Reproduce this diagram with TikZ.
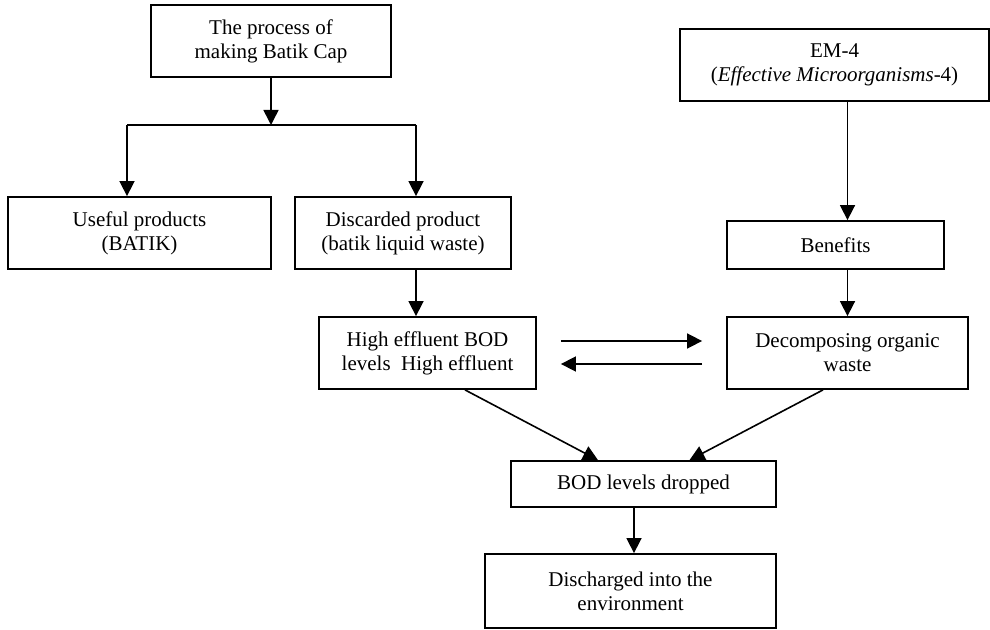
\documentclass[tikz,border=0pt]{standalone}
\usepackage{fontspec}
\setmainfont{Liberation Serif}
\usetikzlibrary{arrows.meta}

\begin{document}
\begin{tikzpicture}[x=0.5pt, y=-0.5pt,
    box/.style={draw, line width=0.9pt, inner sep=0pt, align=center,
        font=\fontsize{10.5}{12}\selectfont},
    arr/.style={line width=0.8pt, -{Triangle[width=7.5pt, length=7.5pt]}}]
    \useasboundingbox (0,0) rectangle (990,630);

    % Boxes
    \node[box, minimum width=120pt, minimum height=36pt] (proc) at (271,41) {The process of\\making Batik Cap};
    \node[box, minimum width=154.5pt, minimum height=36pt] (em) at (834.5,65) {EM-4\\(\textit{Effective Microorganisms}-4)};
    \node[box, minimum width=131.5pt, minimum height=36pt] (useful) at (139.5,233) {Useful products\\(BATIK)};
    \node[box, minimum width=108pt, minimum height=36pt] (discard) at (403,233) {Discarded product\\(batik liquid waste)};
    \node[box, minimum width=108.5pt, minimum height=24pt] (benefit) at (835.5,245) {Benefits};
    \node[box, minimum width=108.5pt, minimum height=36pt] (high) at (427.5,353) {High effluent BOD\\levels\ \ High effluent};
    \node[box, minimum width=120.5pt, minimum height=36pt] (decomp) at (847.5,353) {Decomposing organic\\waste};
    \node[box, minimum width=132.5pt, minimum height=23pt] (bod) at (643.5,484) {BOD levels dropped};
    \node[box, minimum width=145.5pt, minimum height=37pt] (disch) at (630.5,591) {Discharged into the\\environment};

    % Split points
    \coordinate (split) at (271,125);
    \coordinate (lsplit) at (127,125);
    \coordinate (rsplit) at (416,125);
    \coordinate (drop) at (634,507);

    % Left branch
    \draw[arr] (proc.south) -- (split);
    \draw[line width=0.8pt] (lsplit) -- (rsplit);
    \draw[arr] (lsplit) -- (lsplit |- useful.north);
    \draw[arr] (rsplit) -- (rsplit |- discard.north);
    \draw[arr] (rsplit |- discard.south) -- (rsplit |- high.north);

    % Right branch
    \draw[arr] (decomp.north |- em.south) -- (decomp.north |- benefit.north);
    \draw[arr] (decomp.north |- benefit.south) -- (decomp.north);

    % Between the middle boxes
    \draw[arr] ([shift={(24,-12)}]high.east) -- ([shift={(-24,-12)}]decomp.west);
    \draw[arr] ([shift={(-24,11)}]decomp.west) -- ([shift={(24,11)}]high.east);

    % Into the bottom boxes
    \draw[arr] ([xshift=18.75pt]high.south) -- ([xshift=-22.75pt]bod.north);
    \draw[arr] ([xshift=-12.25pt]decomp.south) -- ([xshift=23pt]bod.north);
    \draw[arr] (drop) -- (drop |- disch.north);
\end{tikzpicture}
\end{document}
